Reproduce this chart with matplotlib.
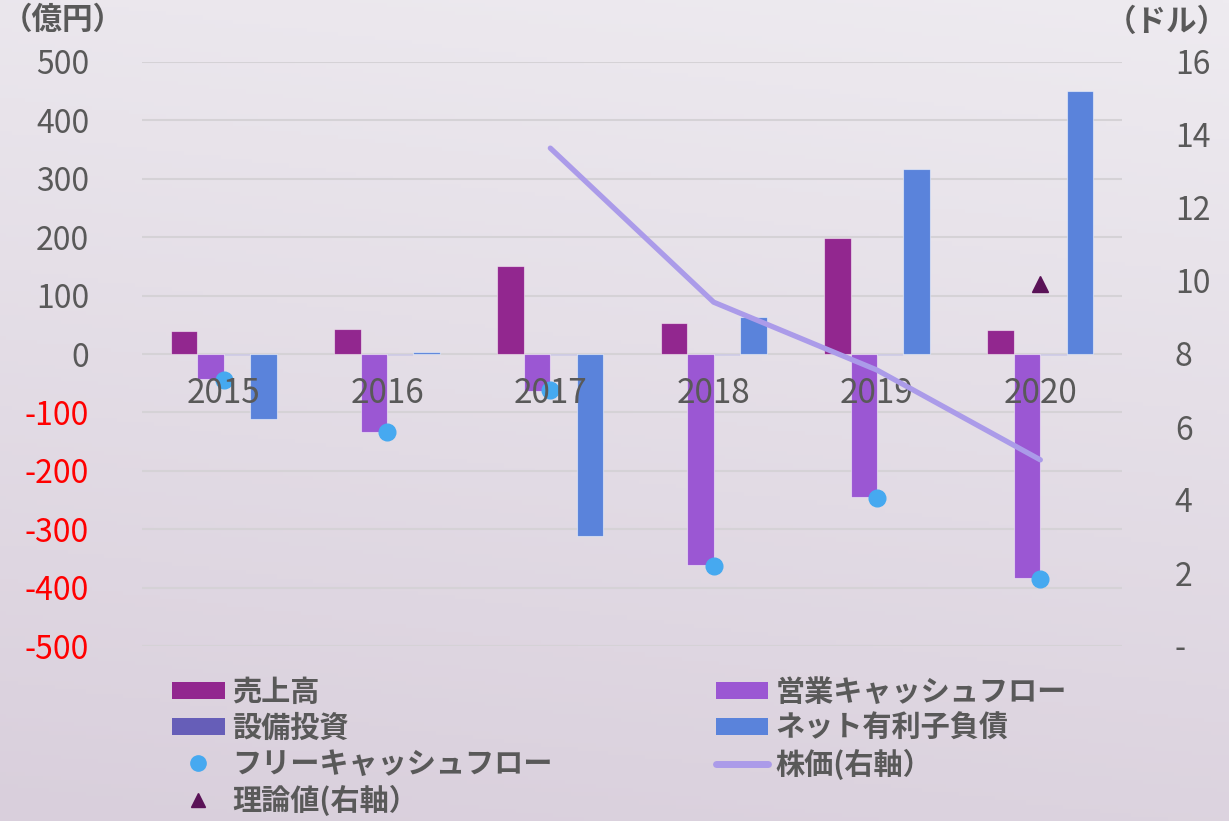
import numpy as np
import matplotlib
matplotlib.use("Agg")
import matplotlib.pyplot as plt
from matplotlib.lines import Line2D
from matplotlib.patches import Patch
from matplotlib.ticker import FuncFormatter, MultipleLocator

plt.rcParams['font.family'] = ['Noto Sans CJK JP', 'DejaVu Sans']

years = ["2015", "2016", "2017", "2018", "2019", "2020"]
sales = [39, 43, 151, 53, 199, 41]
op_cf = [-43, -134, -63, -362, -245, -384]
capex = [-1, -2, -1, -2, -1, -2]
net_debt = [-111, 4, -311, 64, 317, 450]
fcf = [-44, -134, -62, -363, -247, -385]
price_years = ["2017", "2018", "2019", "2020"]
price = [13.64, 9.42, 7.56, 5.10]
theory_years = ["2020"]
theory = [9.92]

names = ["売上高", "営業キャッシュフロー", "設備投資", "ネット有利子負債",
         "フリーキャッシュフロー", "株価(右軸）", "理論値(右軸）"]
colors = ["#92278F", "#9B57D3", "#665EB8", "#5A83DB", "#46A9F0", "#AB9BE9", "#5A1257"]

W, H = 1229, 821
fig = plt.figure(figsize=(W / 100, H / 100), dpi=100)

# background gradient
bg = fig.add_axes([0, 0, 1, 1], zorder=-10)
yy, xx = np.mgrid[0:1:200j, 0:1:200j]
t = np.clip(0.85 * yy + 0.15 * (1 - xx), 0, 1)
top = np.array([0xEE, 0xEB, 0xF0]) / 255
bot = np.array([0xD9, 0xCF, 0xDC]) / 255
img = top[None, None, :] * (1 - t[..., None]) + bot[None, None, :] * t[..., None]
bg.imshow(img, aspect='auto', extent=[0, 1, 0, 1], origin='upper')
bg.axis('off')

ax = fig.add_axes([142 / W, 1 - 646 / H, (1122 - 142) / W, (646 - 62) / H])
ax.set_facecolor('none')
ax2 = ax.twinx()

x = np.arange(len(years))
w = 0.162
series = [sales, op_cf, capex, net_debt]
offs = [-1.5, -0.5, 0.5, 1.5]
for s, o, c in zip(series, offs, colors[:4]):
    ax.bar(x + o * w, s, width=w, color=c, edgecolor=(1, 1, 1, 0.5), linewidth=0.8, zorder=3)

ax.plot(x, fcf, 'o', color=colors[4], markersize=12, zorder=5, linestyle='none')

ax.set_xlim(-0.5, len(years) - 0.5)
ax.set_ylim(-500, 500)
ax.yaxis.set_major_locator(MultipleLocator(100))
ax.grid(axis='y', color='#D5D2D6', linewidth=1.5, zorder=0)
ax.set_axisbelow(True)
ax.set_xticks([])
for sp in ax.spines.values():
    sp.set_visible(False)
for sp in ax2.spines.values():
    sp.set_visible(False)
ax.tick_params(axis='y', length=0, pad=38, labelsize=23, labelcolor='#595959')
ax.yaxis.set_major_formatter(FuncFormatter(lambda v, p: f"{int(round(v))}"))
fig.canvas.draw()
for lab in ax.get_yticklabels():
    try:
        val = float(lab.get_text().replace('−', '-'))
    except ValueError:
        continue
    if val < 0:
        lab.set_color('#FF0000')

for i, yl in enumerate(years):
    ax.annotate(yl, xy=(i, 0), xytext=(0, -16), textcoords='offset points',
                ha='center', va='top', fontsize=24, color='#595959', zorder=6)

px = [years.index(y) for y in price_years]
ax2.plot(px, price, color=colors[5], linewidth=3.8, solid_capstyle='round', zorder=4)
tx = [years.index(y) for y in theory_years]
ax2.plot(tx, theory, '^', color=colors[6], markersize=12, linestyle='none', zorder=5)
ax2.set_ylim(0, 16)
ax2.yaxis.set_major_locator(MultipleLocator(2))
ax2.yaxis.set_major_formatter(FuncFormatter(lambda v, p: "-" if abs(v) < 1e-9 else f"{int(round(v))}"))
ax2.tick_params(axis='y', length=0, pad=38, labelsize=23, labelcolor='#595959')

fig.text(2 / W, 1 - 20 / H, "（億円）", fontsize=22, fontweight='bold', color='#595959', ha='left', va='center')
fig.text(1228 / W, 1 - 22 / H, "（ドル）", fontsize=22, fontweight='bold', color='#595959', ha='right', va='center')

handles = [
    Patch(facecolor=colors[0]),
    Patch(facecolor=colors[2]),
    Line2D([], [], marker='o', color=colors[4], linestyle='none', markersize=11),
    Line2D([], [], marker='^', color=colors[6], linestyle='none', markersize=10),
    Patch(facecolor=colors[1]),
    Patch(facecolor=colors[3]),
    Line2D([], [], color=colors[5], linewidth=5, solid_capstyle='round'),
]
labels = [names[0], names[2], names[4], names[6], names[1], names[3], names[5]]
leg = fig.legend(handles, labels, ncol=2, loc='upper left',
                 bbox_to_anchor=(172 / W, 1 - 677 / H), frameon=False,
                 prop={'size': 21, 'weight': 'bold'}, handlelength=1.8, handleheight=0.5,
                 handletextpad=0.25, columnspacing=5.6, labelspacing=0.2, borderpad=0, borderaxespad=0)
for txt in leg.get_texts():
    txt.set_color('#595959')

fig.savefig("out.png", dpi=100)
